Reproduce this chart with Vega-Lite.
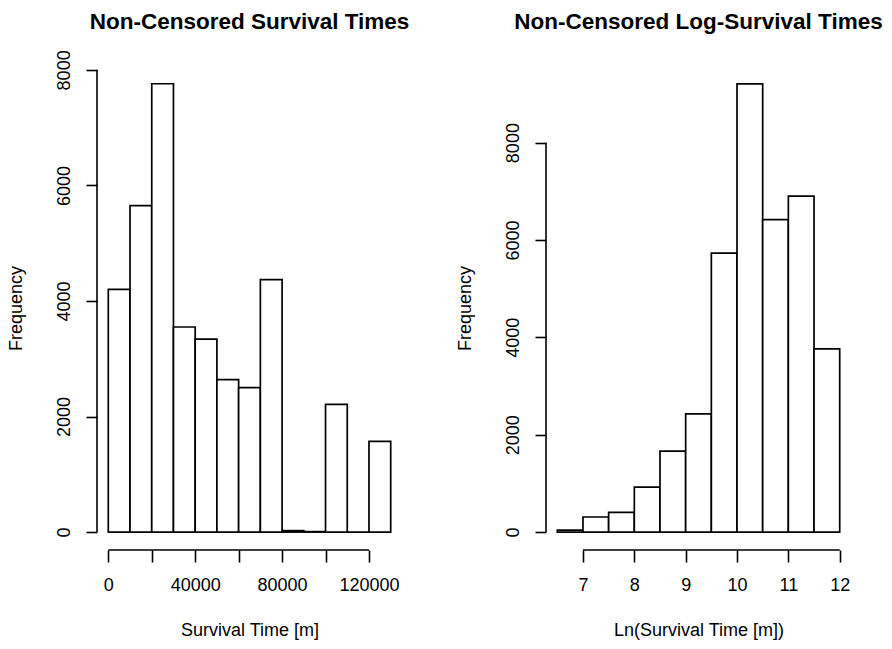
{
  "$schema": "https://vega.github.io/schema/vega-lite/v6.json",
  "autosize": {"type": "pad"},
  "padding": {"left": 7, "top": 10, "right": 41, "bottom": 8},
  "background": "white",
  "config": {
    "view": {"stroke": null},
    "font": "Liberation Sans",
    "axis": {
      "domain": false,
      "grid": false,
      "ticks": true,
      "tickColor": "black",
      "tickWidth": 1.6,
      "labelFont": "Liberation Sans",
      "labelFontSize": 18,
      "labelColor": "black",
      "labelOverlap": false,
      "labelFlush": false,
      "titleFont": "Liberation Sans",
      "titleFontSize": 18,
      "titleFontWeight": "normal",
      "titleColor": "black"
    },
    "axisX": {"tickSize": 12, "labelPadding": 14, "titlePadding": 27},
    "axisY": {
      "tickSize": 11,
      "labelAngle": 270,
      "labelAlign": "center",
      "labelBaseline": "alphabetic",
      "labelPadding": 17,
      "titlePadding": 30
    },
    "title": {
      "font": "Liberation Sans",
      "fontSize": 22.5,
      "fontWeight": "bold",
      "color": "black",
      "anchor": "middle",
      "frame": "group",
      "baseline": "alphabetic"
    }
  },
  "datasets": {
    "survival": [
      {"start": 0, "end": 10000, "count": 4200},
      {"start": 10000, "end": 20000, "count": 5650},
      {"start": 20000, "end": 30000, "count": 7760},
      {"start": 30000, "end": 40000, "count": 3550},
      {"start": 40000, "end": 50000, "count": 3340},
      {"start": 50000, "end": 60000, "count": 2640},
      {"start": 60000, "end": 70000, "count": 2500},
      {"start": 70000, "end": 80000, "count": 4370},
      {"start": 80000, "end": 90000, "count": 25},
      {"start": 90000, "end": 100000, "count": 8},
      {"start": 100000, "end": 110000, "count": 2210},
      {"start": 110000, "end": 120000, "count": 0},
      {"start": 120000, "end": 130000, "count": 1570}
    ],
    "logSurvival": [
      {"start": 6.5, "end": 7.0, "count": 40},
      {"start": 7.0, "end": 7.5, "count": 310},
      {"start": 7.5, "end": 8.0, "count": 405},
      {"start": 8.0, "end": 8.5, "count": 925},
      {"start": 8.5, "end": 9.0, "count": 1665},
      {"start": 9.0, "end": 9.5, "count": 2430},
      {"start": 9.5, "end": 10.0, "count": 5730},
      {"start": 10.0, "end": 10.5, "count": 9205},
      {"start": 10.5, "end": 11.0, "count": 6420},
      {"start": 11.0, "end": 11.5, "count": 6900},
      {"start": 11.5, "end": 12.0, "count": 3765}
    ]
  },
  "hconcat": [
    {
      "title": {"text": "Non-Censored Survival Times", "offset": 16},
      "width": 305,
      "height": 484,
      "layer": [
        {
          "data": {"name": "survival"},
          "mark": {"type": "bar", "fill": "white", "stroke": "black", "strokeWidth": 1.7},
          "encoding": {
            "x": {
              "field": "start",
              "type": "quantitative",
              "scale": {"domain": [-5200, 135200], "nice": false, "zero": false},
              "axis": {
                "title": "Survival Time [m]",
                "values": [0, 20000, 40000, 60000, 80000, 100000, 120000],
                "labelExpr": "datum.value % 40000 === 0 ? format(datum.value, 'd') : ''"
              }
            },
            "x2": {"field": "end"},
            "y": {
              "field": "count",
              "type": "quantitative",
              "scale": {"domain": [-310, 8067], "nice": false, "zero": false},
              "axis": {
                "title": "Frequency",
                "values": [0, 2000, 4000, 6000, 8000],
                "format": "d"
              }
            },
            "y2": {"datum": 0}
          }
        },
        {
          "data": {"values": [{}]},
          "mark": {"type": "rule", "color": "black", "strokeWidth": 1.6},
          "encoding": {"x": {"datum": -5200}, "y": {"datum": 0}, "y2": {"datum": 8000}}
        },
        {
          "data": {"values": [{}]},
          "mark": {"type": "rule", "color": "black", "strokeWidth": 1.6},
          "encoding": {"y": {"datum": -310}, "x": {"datum": 0}, "x2": {"datum": 120000}}
        }
      ]
    },
    {
      "title": {"text": "Non-Censored Log-Survival Times", "offset": 33},
      "width": 305,
      "height": 484,
      "layer": [
        {
          "data": {"name": "logSurvival"},
          "mark": {"type": "bar", "fill": "white", "stroke": "black", "strokeWidth": 1.7},
          "encoding": {
            "x": {
              "field": "start",
              "type": "quantitative",
              "scale": {"domain": [6.28, 12.22], "nice": false, "zero": false},
              "axis": {
                "title": "Ln(Survival Time [m])",
                "values": [7, 8, 9, 10, 11, 12],
                "format": "d"
              }
            },
            "x2": {"field": "end"},
            "y": {
              "field": "count",
              "type": "quantitative",
              "scale": {"domain": [-368, 9574], "nice": false, "zero": false},
              "axis": {
                "title": "Frequency",
                "values": [0, 2000, 4000, 6000, 8000],
                "format": "d"
              }
            },
            "y2": {"datum": 0}
          }
        },
        {
          "data": {"values": [{}]},
          "mark": {"type": "rule", "color": "black", "strokeWidth": 1.6},
          "encoding": {"x": {"datum": 6.28}, "y": {"datum": 0}, "y2": {"datum": 8000}}
        },
        {
          "data": {"values": [{}]},
          "mark": {"type": "rule", "color": "black", "strokeWidth": 1.6},
          "encoding": {"y": {"datum": -368}, "x": {"datum": 7}, "x2": {"datum": 12}}
        }
      ]
    }
  ],
  "spacing": 144,
  "bounds": "flush"
}
